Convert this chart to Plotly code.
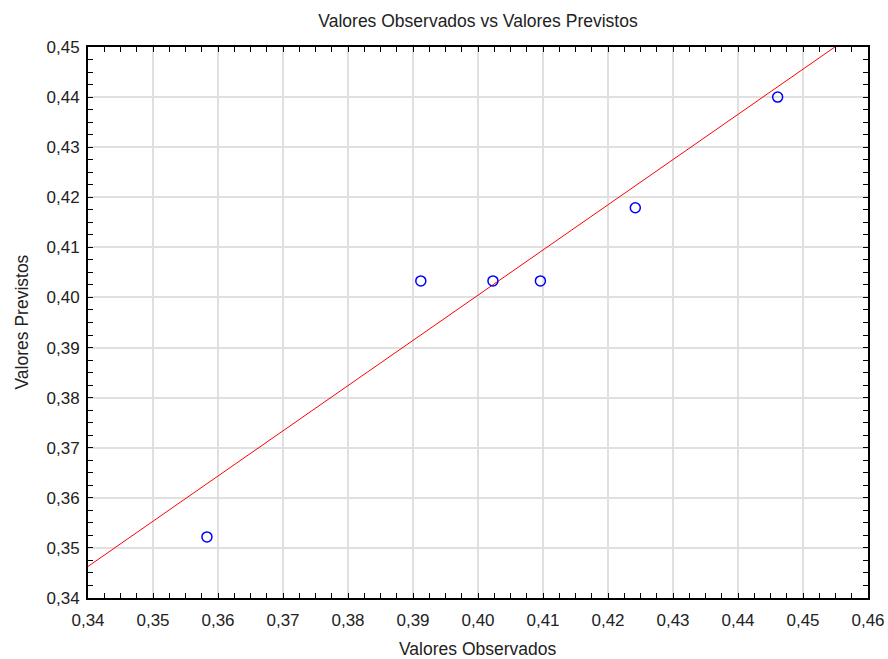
import plotly.graph_objects as go
import numpy as np

# Data
observados = [0.3583, 0.3912, 0.4023, 0.4096, 0.4242, 0.4461]
previstos = [0.3522, 0.4033, 0.4033, 0.4033, 0.4179, 0.4400]
fit_intercept = 0.3463 - 0.9025 * 0.34
fit_slope = 0.9025
x_range = [0.34, 0.46]
y_range = [0.34, 0.45]

line_x = np.array(x_range)
line_y = fit_intercept + fit_slope * line_x

FONT = "Liberation Sans, Arial, sans-serif"
TXT = "#222222"

fig = go.Figure()
fig.add_trace(go.Scatter(
    x=line_x, y=line_y, mode="lines",
    line=dict(color="#ff0000", width=1),
    hoverinfo="skip", showlegend=False,
))
fig.add_trace(go.Scatter(
    x=observados, y=previstos, mode="markers",
    marker=dict(symbol="circle-open", size=10, color="#0000ff",
                line=dict(width=1.5, color="#0000ff")),
    showlegend=False,
))

axis_common = dict(
    showline=True, linecolor="black", linewidth=2, mirror="allticks",
    ticks="inside", ticklen=5, tickcolor="black", tickwidth=1,
    showgrid=True, gridcolor="#e0e0e0", gridwidth=2,
    zeroline=False, tickformat=".2f", automargin=False,
    tickfont=dict(family=FONT, size=17, color=TXT),
    minor=dict(ticks="inside", ticklen=5, tickcolor="black", dtick=0.0025, showgrid=False),
)

fig.update_layout(
    width=888, height=659,
    margin=dict(l=88, r=20, t=47, b=61),
    paper_bgcolor="white", plot_bgcolor="white",
    separators=",.",
    title=dict(text="Valores Observados vs Valores Previstos",
               x=0.5, xref="paper", xanchor="center", y=1 - 21 / 659, yanchor="middle",
               font=dict(family=FONT, size=17.5, color=TXT)),
    xaxis=dict(range=x_range, dtick=0.01, tick0=0.34, ticklabelstandoff=6, **axis_common),
    yaxis=dict(range=y_range, dtick=0.01, tick0=0.34, ticklabelstandoff=3, **axis_common),
    annotations=[
        dict(text="Valores Observados", xref="paper", yref="paper",
             x=0.5, y=-(649 - 598) / 551, xanchor="center", yanchor="middle",
             showarrow=False, font=dict(family=FONT, size=17.5, color=TXT)),
        dict(text="Valores Previstos", xref="paper", yref="paper",
             x=-(88 - 21) / 780, y=0.5, xanchor="center", yanchor="middle",
             textangle=-90, showarrow=False, font=dict(family=FONT, size=17.5, color=TXT)),
    ],
)

fig.write_html("out.html")
